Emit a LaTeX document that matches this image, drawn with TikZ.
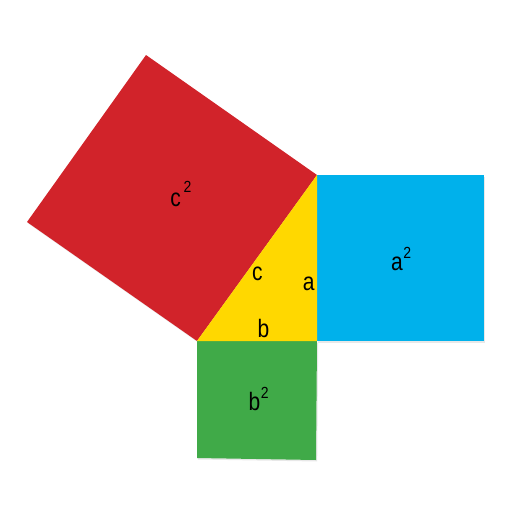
\documentclass[tikz,border=0pt]{standalone}
\usepackage{fontspec}
\setmainfont{Liberation Sans}
\usetikzlibrary{shadows}
\definecolor{sqred}{HTML}{D1232A}
\definecolor{sqyellow}{HTML}{FFD800}
\definecolor{sqblue}{HTML}{00B1EB}
\definecolor{sqgreen}{HTML}{40AA48}
\newcommand\lettr[1]{\scalebox{1}[1.2]{\fontsize{21}{21}\selectfont #1}}
\newcommand\digt[1]{\scalebox{1}[1.15]{\fontsize{14}{14}\selectfont #1}}
\begin{document}
\begin{tikzpicture}[x=1pt,y=-1pt,
  sq/.style={draw=none, drop shadow={opacity=0.18, shadow xshift=1.2pt, shadow yshift=-1.5pt}},
  lab/.style={inner sep=0pt, outer sep=0pt, text=black}]
\useasboundingbox (0,0) rectangle (512,512);
% vertices
\coordinate (T) at (317,175);
\coordinate (R) at (317,341);
\coordinate (L) at (197,341);
% red square on hypotenuse
\fill[sqred, sq] (L) -- (T) -- (146,55) -- (27,222) -- cycle;
% blue square on a
\fill[sqblue, sq] (T) -- (484,175) -- (484,341) -- (R) -- cycle;
% green square on b
\fill[sqgreen, sq] (L) -- (R) -- (316,460) -- (197,458) -- cycle;
% triangle
\fill[sqyellow] (T) -- (R) -- (L) -- cycle;
% labels
\node[lab] (lc) at (257.3,274) {\lettr{c}};
\node[lab] (la) at (308.7,283.5) {\lettr{a}};
\node[lab] (lb) at (263.5,328.5) {\lettr{b}};
\node[lab] (c2) at (175.7,200.3) {\lettr{c}};
\node[lab] (c2s) at (187.5,187) {\digt{2}};
\node[lab] (a2) at (397,263.7) {\lettr{a}};
\node[lab] (a2s) at (407.3,252.7) {\digt{2}};
\node[lab] (b2) at (254.5,401) {\lettr{b}};
\node[lab] (b2s) at (264.7,393) {\digt{2}};
\end{tikzpicture}
\end{document}
